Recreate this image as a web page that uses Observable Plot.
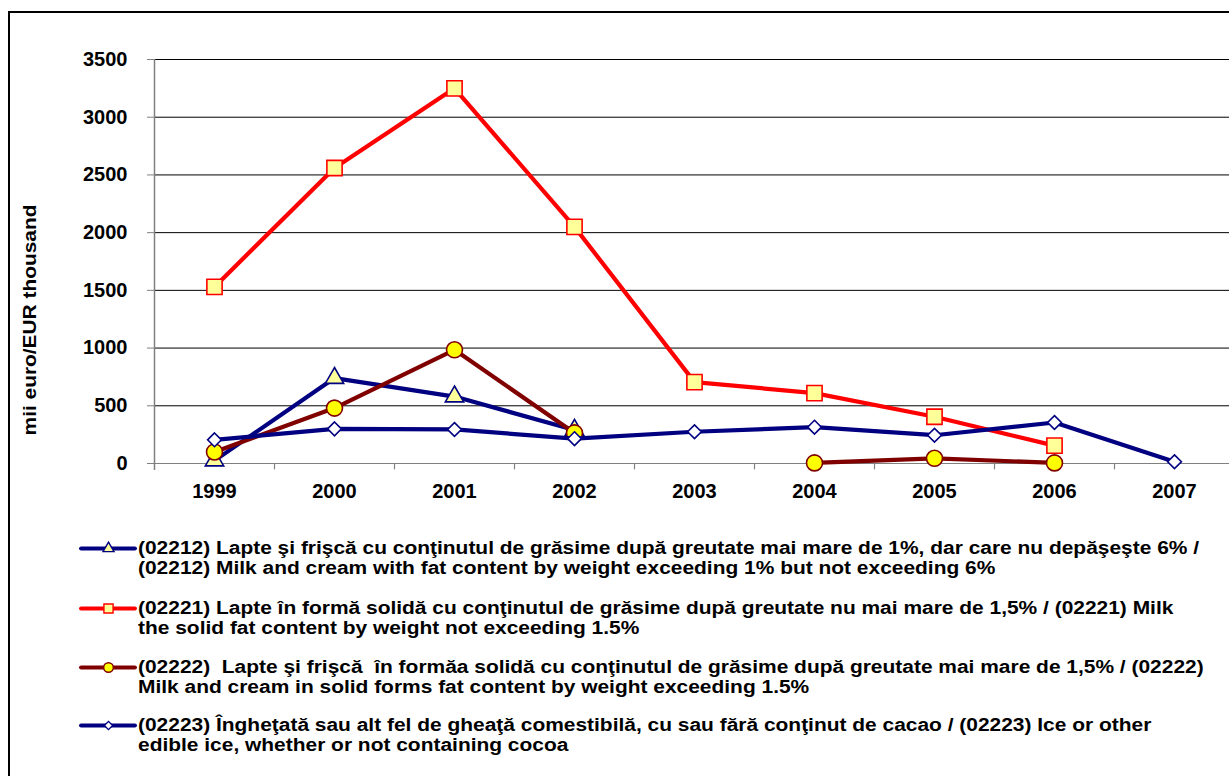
<!DOCTYPE html>
<html>
<head>
<meta charset="utf-8">
<script src="https://cdn.jsdelivr.net/npm/d3@7"></script>
<script src="https://cdn.jsdelivr.net/npm/@observablehq/plot@0.6"></script>
<style>
  html, body { margin: 0; padding: 0; background: #fff; overflow: hidden; width: 1229px; height: 776px; }
  body { position: relative; font-family: "Liberation Sans", Arial, sans-serif; }
  #frame { position: absolute; left: 8px; top: 11px; width: 1260px; height: 800px; border: 2px solid #000; box-sizing: border-box; }
  #chart { position: absolute; left: 0; top: 0; width: 1240px; }
  #ylabel { position: absolute; left: 30px; top: 320px; transform: translate(-50%, -50%) rotate(-90deg) scaleX(1.16); font-weight: bold; font-size: 18px; white-space: nowrap; color: #000; }
  .leg { position: absolute; left: 80px; width: 1140px; height: 40px; }
  .leg svg { position: absolute; left: 0; top: 0; max-width: none !important; }
  .leg .txt { position: absolute; left: 58px; top: 0; font-weight: bold; font-size: 18px; line-height: 20px; white-space: pre; color: #000; transform-origin: 0 0; transform: scaleX(1.163); }
</style>
</head>
<body>
<div id="frame"></div>
<div id="chart"></div>
<div id="ylabel">mii euro/EUR thousand</div>
<div id="legend"></div>
<script>
const years = ["1999", "2000", "2001", "2002", "2003", "2004", "2005", "2006", "2007"];
const s02212 = [25, 740, 580, 290, null, null, null, null, null];
const s02221 = [1530, 2560, 3250, 2050, 705, 610, 405, 155, null];
const s02222 = [100, 480, 985, 265, null, 5, 45, 5, null];
const s02223 = [205, 300, 295, 215, 275, 315, 245, 355, 15];
const yTicks = [0, 500, 1000, 1500, 2000, 2500, 3000, 3500];

const seriesNames = ["02212", "02221", "02222", "02223"];
const seriesValues = [s02212, s02221, s02222, s02223];
const legendLines = [
  ["(02212) Lapte şi frişcă cu conţinutul de grăsime după greutate mai mare de 1%, dar care nu depăşeşte 6% /",
   "(02212) Milk and cream with fat content by weight exceeding 1% but not exceeding 6%"],
  ["(02221) Lapte în formă solidă cu conţinutul de grăsime după greutate nu mai mare de 1,5% / (02221) Milk",
   "the solid fat content by weight not exceeding 1.5%"],
  ["(02222)  Lapte şi frişcă  în formăa solidă cu conţinutul de grăsime după greutate mai mare de 1,5% / (02222)",
   "Milk and cream in solid forms fat content by weight exceeding 1.5%"],
  ["(02223) Îngheţată sau alt fel de gheaţă comestibilă, cu sau fără conţinut de cacao / (02223) Ice or other",
   "edible ice, whether or not containing cocoa"]
];

const styles = {
  "02212": {line: "#000080", symbol: "triangle", r: 6.8, fill: "#FFFF99", stroke: "#000080"},
  "02221": {line: "#FF0000", symbol: "square", r: 8.6, fill: "#FFFF99", stroke: "#FF0000"},
  "02222": {line: "#800000", symbol: "circle", r: 8, fill: "#FFFF00", stroke: "#800000"},
  "02223": {line: "#000080", symbol: "diamond2", r: 6.2, fill: "#FFFFFF", stroke: "#000080"}
};

const rows = seriesNames.map((name, k) => years.map((year, i) => ({series: name, year, value: seriesValues[k][i]})));

const marks = [
  Plot.gridY(yTicks.filter(d => d > 0), {stroke: "#000", strokeOpacity: 1, strokeWidth: 1}),
  Plot.ruleY([0], {stroke: "#808080", strokeWidth: 1.2}),
  Plot.ruleX([years[0]], {dx: -60, y1: -60, y2: 3500, stroke: "#808080", strokeWidth: 1.5}),
  Plot.ruleX(years.slice(1), {x: d => d, dx: -60, y1: 0, y2: -55, stroke: "#808080", strokeWidth: 1.2}),
  Plot.axisY({ticks: yTicks, tickSize: 7, tickPadding: 20, tickFormat: d3.format("d"), stroke: "#808080", fill: "#000", fontSize: 20, fontWeight: "bold", label: null}),
  Plot.axisX({tickSize: 0, tickPadding: 20, fontSize: 20, fontWeight: "bold", fill: "#000", label: null})
];
rows.forEach((data, k) => {
  const st = styles[seriesNames[k]];
  marks.push(Plot.line(data, {x: "year", y: "value", stroke: st.line, strokeWidth: 4.2, strokeLinejoin: "round"}));
  marks.push(Plot.dot(data.filter(d => d.value != null), {x: "year", y: "value", symbol: st.symbol, r: st.r, fill: st.fill, stroke: st.stroke, strokeWidth: 1.6}));
});

const chart = Plot.plot({
  width: 1240,
  height: 500,
  marginLeft: 154,
  marginRight: 6,
  marginTop: 59,
  marginBottom: 37,
  style: {fontFamily: "'Liberation Sans', Arial, sans-serif", background: "transparent", overflow: "visible", maxWidth: "none"},
  x: {type: "point", domain: years, padding: 0.5},
  y: {domain: [0, 3500]},
  marks
});
document.getElementById("chart").appendChild(chart);

// Legend
const legend = document.getElementById("legend");
const legendTops = [538, 598, 657, 715];
seriesNames.forEach((name, k) => {
  const st = styles[name];
  const div = document.createElement("div");
  div.className = "leg";
  div.style.top = legendTops[k] + "px";
  const sample = Plot.plot({
    width: 56, height: 20, margin: 0,
    x: {domain: [0, 1], axis: null},
    y: {domain: [0, 1], axis: null},
    style: {background: "transparent", overflow: "visible", maxWidth: "none"},
    marks: [
      Plot.ruleY([0.5], {x1: 0.02, x2: 0.98, stroke: st.line, strokeWidth: 4.2, strokeLinecap: "round"}),
      Plot.dot([0.5], {x: d => d, y: 0.5, symbol: st.symbol, r: st.r * 0.6, fill: st.fill, stroke: st.stroke, strokeWidth: 1.4})
    ]
  });
  div.appendChild(sample);
  const txt = document.createElement("div");
  txt.className = "txt";
  txt.textContent = legendLines[k].join("\n");
  div.appendChild(txt);
  legend.appendChild(div);
});
</script>
</body>
</html>
